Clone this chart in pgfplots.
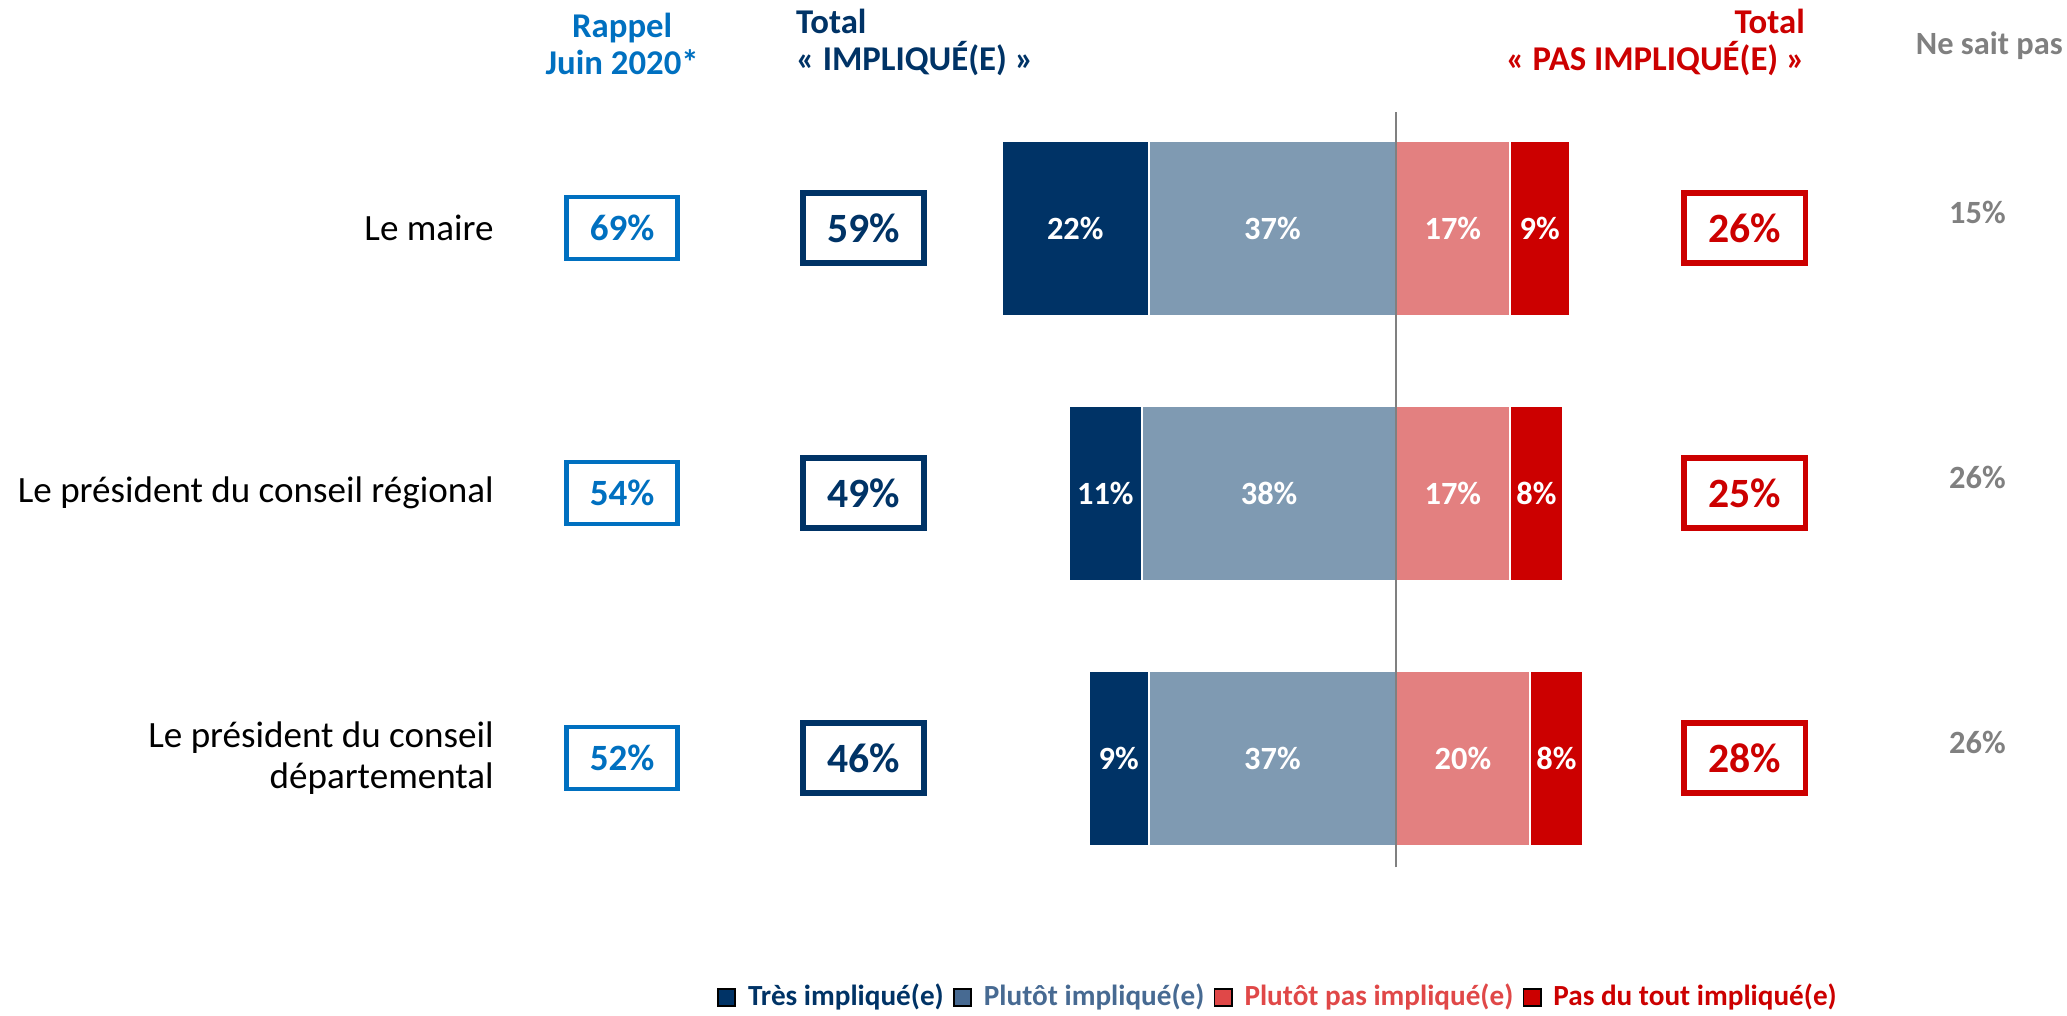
\documentclass[border=0pt]{standalone}
\usepackage{fontspec}
\setmainfont{Carlito}
\usepackage{pgfplots}
\pgfplotsset{compat=1.18}

\definecolor{navy}{HTML}{003366}
\definecolor{greyblue}{HTML}{7F9AB2}
\definecolor{lightred}{HTML}{E38080}
\definecolor{darkred}{HTML}{CC0000}
\definecolor{rappel}{HTML}{0070C0}
\definecolor{nspgrey}{HTML}{808080}
\definecolor{legblue}{HTML}{476A92}
\definecolor{legred}{HTML}{E04848}

% one axis frame covering the whole picture: x in %, y in rows
\pgfplotsset{
  base/.style={width=15.68cm, height=7.70cm, scale only axis,
    at={(0,0)}, anchor=south west,
    xmin=-208.9, xmax=100.4, ymin=0.030, ymax=3.861,
    hide axis, clip=false},
  seg/.style={draw=white, line width=0.5pt},
  lab/.style={only marks, mark=none, point meta=explicit symbolic,
    nodes near coords, nodes near coords align=center},
}

\begin{document}
\begin{tikzpicture}
\path[use as bounding box] (0,0) rectangle (15.68cm,7.70cm);

% negative side: impliqué
\begin{axis}[base, xbar stacked, bar width=1.33cm]
\addplot[seg, fill=greyblue] coordinates {(-37,3) (-38,2) (-37,1)};
\addplot[seg, fill=navy] coordinates {(-22,3) (-11,2) (-9,1)};
\end{axis}

% positive side: pas impliqué
\begin{axis}[base, xbar stacked, bar width=1.33cm]
\addplot[seg, fill=lightred] coordinates {(17,3) (17,2) (20,1)};
\addplot[seg, fill=darkred] coordinates {(9,3) (8,2) (8,1)};
\end{axis}

% labels, boxes, legend
\begin{axis}[base,
  legend columns=4,
  legend image code/.code={\fill[#1] (0cm,-0.065cm) rectangle (0.13cm,0.065cm);},
  legend style={draw=none, fill=none, at={(0.620,0.017)}, anchor=center,
    font=\bfseries\fontsize{6.3}{7.3}\selectfont, column sep=0pt,
    /tikz/every odd column/.append style={column sep=0.02cm}},
]
\addlegendimage{fill=navy}
\addlegendentry{\textcolor{navy}{Très impliqué(e)}}
\addlegendimage{fill=legblue}
\addlegendentry{\textcolor{legblue}{Plutôt impliqué(e)}}
\addlegendimage{fill=legred}
\addlegendentry{\textcolor{legred}{Plutôt pas impliqué(e)}}
\addlegendimage{fill=darkred}
\addlegendentry{\textcolor{darkred}{Pas du tout impliqué(e)}}

% segment values
\addplot[lab, every node near coord/.append style={text=white,
  font=\bfseries\fontsize{7}{8}\selectfont}] coordinates {
  (-48,3) [22\%] (-18.5,3) [37\%] (8.5,3) [17\%] (21.5,3) [9\%]
  (-43.5,2) [11\%] (-19,2) [38\%] (8.5,2) [17\%] (21,2) [8\%]
  (-41.5,1) [9\%] (-18.5,1) [37\%] (10,1) [20\%] (24,1) [8\%]};

% rappel juin 2020
\addplot[lab, every node near coord/.append style={draw=rappel, line width=1pt,
  text=rappel, minimum width=0.84cm, minimum height=0.47cm, inner sep=0pt,
  font=\bfseries\fontsize{8}{9}\selectfont}] coordinates {
  (-115.8,3) [69\%] (-115.8,2) [54\%] (-115.8,1) [52\%]};

% total impliqué
\addplot[lab, every node near coord/.append style={draw=navy, line width=1.2pt,
  text=navy, minimum width=0.92cm, minimum height=0.53cm, inner sep=0pt,
  font=\bfseries\fontsize{9}{10}\selectfont}] coordinates {
  (-79.7,3) [59\%] (-79.7,2) [49\%] (-79.7,1) [46\%]};

% total pas impliqué
\addplot[lab, every node near coord/.append style={draw=darkred, line width=1.2pt,
  text=darkred, minimum width=0.92cm, minimum height=0.53cm, inner sep=0pt,
  font=\bfseries\fontsize{9}{10}\selectfont}] coordinates {
  (52.2,3) [26\%] (52.2,2) [25\%] (52.2,1) [28\%]};

% ne sait pas
\addplot[lab, every node near coord/.append style={text=nspgrey,
  font=\bfseries\fontsize{7}{8}\selectfont}] coordinates {
  (87,3.06) [15\%] (87,2.06) [26\%] (87,1.06) [26\%]};

% centre line
\draw[nspgrey, line width=0.5pt] (axis cs:0,0.587) -- (axis cs:0,3.438);

% categories
\tikzset{cat/.style={anchor=east, align=right, inner sep=0pt, font=\fontsize{8}{8.8}\selectfont}}
\node[cat] at (axis cs:-134.9,3) {Le maire};
\node[cat] at (axis cs:-134.9,2) {Le président du conseil régional};
\node[cat] at (axis cs:-134.9,1) {Le président du conseil\\départemental};

% column headers
\tikzset{hdr/.style={inner sep=0pt, font=\bfseries\fontsize{7.5}{8}\selectfont}}
\node[hdr, align=center, text=rappel] at (axis cs:-115.8,3.694) {Rappel\\Juin 2020*};
\node[hdr, anchor=west, align=left, text=navy] at (axis cs:-89.9,3.699) {Total\\« IMPLIQUÉ(E) »};
\node[hdr, anchor=east, align=right, text=darkred] at (axis cs:61.3,3.699) {Total\\« PAS IMPLIQUÉ(E) »};
\node[hdr, anchor=east, text=nspgrey, font=\bfseries\fontsize{7}{8}\selectfont] at (axis cs:99.9,3.687) {Ne sait pas};
\end{axis}
\end{tikzpicture}
\end{document}
